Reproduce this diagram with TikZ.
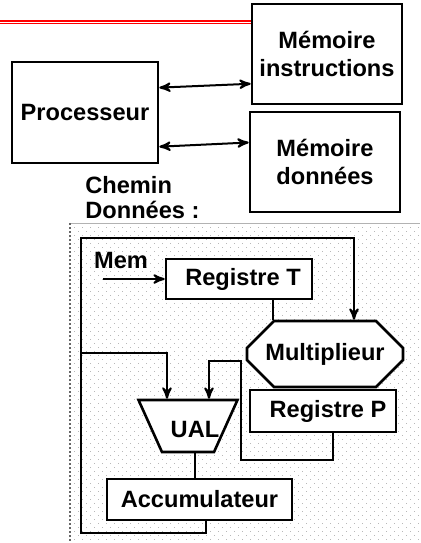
\documentclass[tikz,border=0pt]{standalone}
\usepackage{fontspec}
\setmainfont{Liberation Sans}
\usetikzlibrary{positioning}
\usetikzlibrary{calc}
\usetikzlibrary{arrows}
\usetikzlibrary{shapes.geometric}
\usetikzlibrary{shapes.misc}
\tikzset{lbl/.style={inner sep=0pt,font=\fontsize{11.8}{14}\selectfont\bfseries}}
\tikzset{box/.style={lbl,draw,fill=white,line width=1.3pt,align=center}}
\tikzset{wire/.style={line width=1pt}}
\tikzset{>=stealth'}

\begin{document}
\begin{tikzpicture}[x=0.5pt,y=-0.5pt]
\useasboundingbox (0,0) rectangle (420,543);

% dotted background of the data path
\foreach \r in {0,...,78} {
  \pgfmathtruncatemacro\off{4*mod(\r,2)}
  \foreach \c in {0,...,43}
    \fill[black!28] (74+\off+8*\c,227+4*\r) rectangle ++(1.4,1.4);
}
\draw[black!30,line width=0.5pt] (70,223) -- (420,223);
\draw[black!60,densely dotted,line width=1pt] (70,223) -- (70,543);

\node[box,minimum width=73pt,minimum height=50.5pt] (Proc) at (85,112.5) {Processeur};
\node[box,minimum width=75pt,minimum height=50pt] (MemI) at (327,54) {Mémoire\\instructions};
\node[box,minimum width=75pt,minimum height=50pt] (MemD) at (325,162) {Mémoire\\données};

\draw[red,line width=1pt] (0,20.5) -- (MemI.west |- 0,20.5);
\draw[red,line width=0.8pt] (0,23.5) -- (MemI.west |- 0,23.5);

\draw[<->,wire] ($(Proc.north east)!0.26!(Proc.south east)$) -- ($(MemI.north west)!0.79!(MemI.south west)$);
\draw[<->,wire] ($(Proc.north east)!0.83!(Proc.south east)$) -- ($(MemD.north west)!0.31!(MemD.south west)$);

\node[lbl,anchor=base west] (Chemin) at (85,193) {Chemin};
\node[lbl,anchor=base west] (Donnees) at (85,218) {Données :};

% data path
\node[box,minimum width=73pt,minimum height=20pt] (RegT) at (239,279) {\hspace*{4pt}Registre T};
\node[box,chamfered rectangle,chamfered rectangle xsep=8pt,chamfered rectangle ysep=8pt,
      minimum width=78pt,minimum height=33pt] (Mult) at (325,354) {Multiplieur};
\node[box,minimum width=73pt,minimum height=21pt] (RegP) at (323,411) {\hspace*{5pt}Registre P};
\node[box,trapezium,shape border rotate=180,trapezium left angle=65,trapezium right angle=65,
      trapezium stretches=true,minimum width=49.5pt,minimum height=26pt,
      label={[lbl,xshift=3.5pt,yshift=-1.5pt]center:UAL}] (UAL) at (188,426) {\phantom{U}};
\node[box,minimum width=92.5pt,minimum height=20.5pt] (Acc) at (199.5,499.5) {Accumulateur};

\node[lbl,anchor=base] (Mem) at (121,268) {Mem};
\coordinate (MemIn) at (103,279);
\draw[->,wire] (MemIn) -- (RegT.west);

\coordinate (Tout) at ($(RegT.south west)!0.73!(RegT.south east)$);
\draw[wire] (Tout) -- (Tout |- Mult.north);

\coordinate (AccOut) at ($(Acc.south west)!0.535!(Acc.south east)$);
\coordinate (LoopB) at (81,533);
\coordinate (LoopT) at (354,238);
\draw[->,wire] (AccOut) |- (LoopB) |- (LoopT) -- (LoopT |- Mult.north);

\coordinate (Tap) at (81,353);
\draw[->,wire] (Tap) -| ($(UAL.north)+(-21,0)$);

\coordinate (Turn) at (241,361);
\draw[->,wire] ($(RegP.south)+(10,0)$) -- ++(0,27) -| (Turn) -| ($(UAL.north)+(21,0)$);

\coordinate (UALout) at ($(UAL.south)+(7,0)$);
\draw[wire] (UALout) -- (UALout |- Acc.north);
\end{tikzpicture}
\end{document}
